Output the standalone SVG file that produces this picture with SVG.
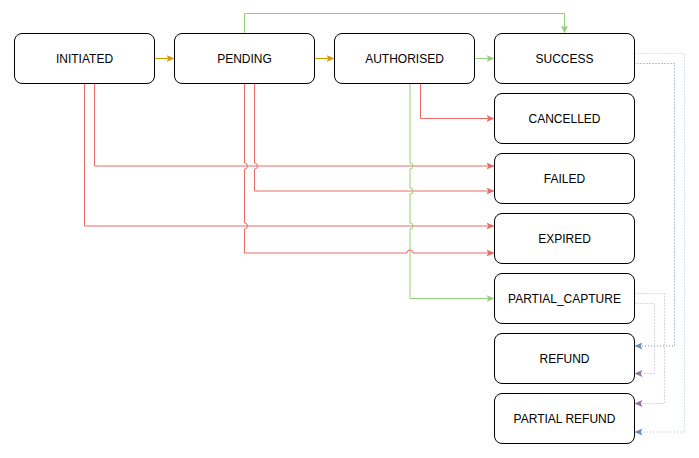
<svg xmlns="http://www.w3.org/2000/svg" width="699" height="458" viewBox="0 0 699 458">
<style>
.box{fill:#fff;stroke:#000;stroke-width:1}
.lbl{font-family:"Liberation Sans",Arial,sans-serif;font-size:12px;fill:#000;text-anchor:middle}
.e{fill:none;stroke-width:1}
.red{stroke:#EA6B66;marker-end:url(#ar)}
.grn{stroke:#97D077;marker-end:url(#ag)}
.org{stroke:#D79B00;marker-end:url(#ao)}
.blu{stroke:#6C8EBF;stroke-dasharray:1 2;marker-end:url(#ab)}
.pur{stroke:#9673A6;stroke-dasharray:1 2;marker-end:url(#ap)}
</style>
<defs>
<marker id="ar" markerUnits="userSpaceOnUse" viewBox="0 0 8 8" refX="8" refY="4" markerWidth="8" markerHeight="8" orient="auto"><path d="M0,0.5 L8,4 L0,7.5 L1.8,4 Z" fill="#EA6B66"/></marker>
<marker id="ag" markerUnits="userSpaceOnUse" viewBox="0 0 8 8" refX="8" refY="4" markerWidth="8" markerHeight="8" orient="auto"><path d="M0,0.5 L8,4 L0,7.5 L1.8,4 Z" fill="#97D077"/></marker>
<marker id="ao" markerUnits="userSpaceOnUse" viewBox="0 0 8 8" refX="8" refY="4" markerWidth="8" markerHeight="8" orient="auto"><path d="M0,0.5 L8,4 L0,7.5 L1.8,4 Z" fill="#D79B00"/></marker>
<marker id="ab" markerUnits="userSpaceOnUse" viewBox="0 0 8 8" refX="8" refY="4" markerWidth="8" markerHeight="8" orient="auto"><path d="M0,0.5 L8,4 L0,7.5 L1.8,4 Z" fill="#6C8EBF"/></marker>
<marker id="ap" markerUnits="userSpaceOnUse" viewBox="0 0 8 8" refX="8" refY="4" markerWidth="8" markerHeight="8" orient="auto"><path d="M0,0.5 L8,4 L0,7.5 L1.8,4 Z" fill="#9673A6"/></marker>
</defs>
<rect width="699" height="458" fill="#fff"/>
<g id="connectors">
<path class="e org" d="M154.5,58.5 H174.5"/>
<path class="e org" d="M314.5,58.5 H334.5"/>
<path class="e grn" d="M474.5,58.5 H494.5"/>
<path class="e grn" d="M244.5,33.5 V13.5 H564.5 V33.5"/>
<path class="e red" d="M94.5,83.5 V166 H494.5"/>
<path class="e red" d="M84.5,83.5 V226 H494.5"/>
<path class="e red" d="M254.5,83.5 V163 A3,3 0 0 1 254.5,169 V191 H494.5"/>
<path class="e red" d="M420.5,83.5 V118.5 H494.5"/>
<path class="e grn" d="M410,83.5 V163 A3,3 0 0 1 410,169 V188 A3,3 0 0 1 410,194 V223 A3,3 0 0 1 410,229 V298.5 H494.5"/>
<path class="e red" d="M244.5,83.5 V163 A3,3 0 0 1 244.5,169 V223 A3,3 0 0 1 244.5,229 V253 H407 A3,3 0 0 1 413,253 H494.5"/>
<path class="e blu" d="M634.5,63.5 H674.5 V346 H634.5"/>
<path class="e blu" stroke-opacity="0.5" d="M634.5,53.5 H684.5 V432 H634.5"/>
<path class="e pur" stroke-opacity="0.6" d="M634.5,293.5 H664.5 V403.5 H634.5"/>
<path class="e pur" stroke-opacity="0.6" d="M634.5,303.5 H654.5 V373.5 H634.5"/>
</g>
<g id="initiated"><rect class="box" x="14.5" y="33.5" width="140" height="50" rx="7.5"/><text class="lbl" x="84.5" y="62.5">INITIATED</text></g>
<g id="pending"><rect class="box" x="174.5" y="33.5" width="140" height="50" rx="7.5"/><text class="lbl" x="244.5" y="62.5">PENDING</text></g>
<g id="authorised"><rect class="box" x="334.5" y="33.5" width="140" height="50" rx="7.5"/><text class="lbl" x="404.5" y="62.5">AUTHORISED</text></g>
<g id="success"><rect class="box" x="494.5" y="33.5" width="140" height="50" rx="7.5"/><text class="lbl" x="564.5" y="62.5">SUCCESS</text></g>
<g id="cancelled"><rect class="box" x="494.5" y="93.5" width="140" height="50" rx="7.5"/><text class="lbl" x="564.5" y="122.5">CANCELLED</text></g>
<g id="failed"><rect class="box" x="494.5" y="153.5" width="140" height="50" rx="7.5"/><text class="lbl" x="564.5" y="182.5">FAILED</text></g>
<g id="expired"><rect class="box" x="494.5" y="213.5" width="140" height="50" rx="7.5"/><text class="lbl" x="564.5" y="242.5">EXPIRED</text></g>
<g id="partial_capture"><rect class="box" x="494.5" y="273.5" width="140" height="50" rx="7.5"/><text class="lbl" x="564.5" y="302.5">PARTIAL_CAPTURE</text></g>
<g id="refund"><rect class="box" x="494.5" y="333.5" width="140" height="50" rx="7.5"/><text class="lbl" x="564.5" y="362.5">REFUND</text></g>
<g id="partial_refund"><rect class="box" x="494.5" y="393.5" width="140" height="50" rx="7.5"/><text class="lbl" x="564.5" y="422.5">PARTIAL REFUND</text></g>
</svg>
